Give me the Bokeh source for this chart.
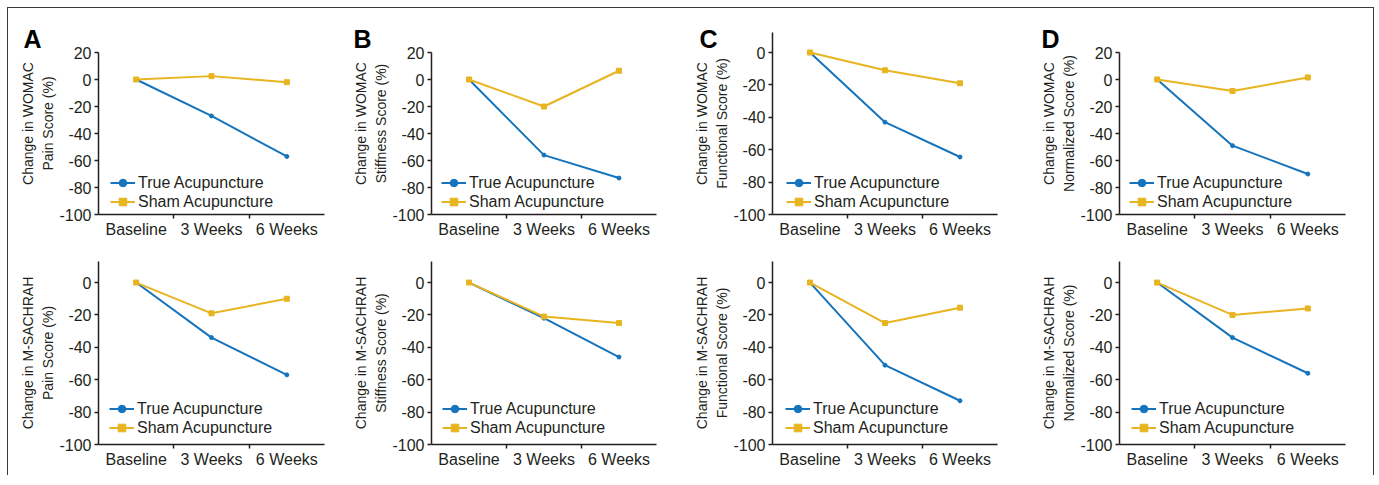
from bokeh.plotting import figure
from bokeh.layouts import row, column
from bokeh.models import FixedTicker, Label
from bokeh.embed import file_html
from bokeh.resources import INLINE

# ---------------- data ----------------
categories = ["Baseline", "3 Weeks", "6 Weeks"]
x_pos = [0, 1, 2]
series_names = ["True Acupuncture", "Sham Acupuncture"]

womac_pain_true = [0, -27, -57]
womac_pain_sham = [0, 2.5, -2]
womac_stiff_true = [0, -56, -73]
womac_stiff_sham = [0, -20, 6.5]
womac_func_true = [0, -43, -64.5]
womac_func_sham = [0, -11, -19]
womac_norm_true = [0, -49, -70]
womac_norm_sham = [0, -8.5, 1.5]

msach_pain_true = [0, -34, -57]
msach_pain_sham = [0, -19, -10]
msach_stiff_true = [0, -22, -46]
msach_stiff_sham = [0, -21, -25]
msach_func_true = [0, -51, -73]
msach_func_sham = [0, -25, -15.5]
msach_norm_true = [0, -34, -56]
msach_norm_sham = [0, -20, -16]

yticks_top = [20, 0, -20, -40, -60, -80, -100]
yticks_zero = [0, -20, -40, -60, -80, -100]

panel_letters = ["A", "B", "C", "D"]
ylabels_top = ["Change in WOMAC\nPain Score (%)",
               "Change in WOMAC\nStiffness Score (%)",
               "Change in WOMAC\nFunctional Score (%)",
               "Change in WOMAC\nNormalized Score (%)"]
ylabels_bot = ["Change in M-SACHRAH\nPain Score (%)",
               "Change in M-SACHRAH\nStiffness Score (%)",
               "Change in M-SACHRAH\nFunctional Score (%)",
               "Change in M-SACHRAH\nNormalized Score (%)"]

# ---------------- style / layout ----------------
FONT = "Liberation Sans"
INK = "#231f20"
BLUE = "#1574bb"
YELLOW = "#e8b420"

col_w = [337, 345, 342, 341]
col_left = [90, 86, 79, 87]
col_right = [21, 34, 35, 28]
legend_dx_top = [12, 10, 14, 10]
legend_dx_bot = [11, 11, 13, 12]
letter_dx = [-75, -78, -74, -78]

ROW1_H, ROW1_TOP, ROW1_BOT = 236, 24, 30
ROW2_H, ROW2_TOP, ROW2_BOT = 231, 17, 31


def make_panel(true_vals, sham_vals, ylabel, yticks, y_end, y_bound, w, h,
               b_left, b_right, b_top, b_bottom, leg_x, leg_y,
               letter=None, let_dx=0, let_dy=-6):
    p = figure(width=w, height=h, output_backend="svg", toolbar_location=None,
               x_range=(-0.5, 2.5), y_range=(-100, y_end),
               min_border_left=b_left, min_border_right=b_right,
               min_border_top=b_top, min_border_bottom=b_bottom)
    p.outline_line_color = None
    p.xgrid.visible = False
    p.ygrid.visible = False
    p.background_fill_color = "white"
    p.border_fill_color = "white"

    p.line(x_pos, true_vals, line_color=BLUE, line_width=2, legend_label=series_names[0])
    p.scatter(x_pos, true_vals, marker="circle", size=4, fill_color=BLUE,
              line_color=BLUE, legend_label=series_names[0])
    p.line(x_pos, sham_vals, line_color=YELLOW, line_width=2, legend_label=series_names[1])
    p.scatter(x_pos, sham_vals, marker="square", size=5, fill_color=YELLOW,
              line_color=YELLOW, legend_label=series_names[1])

    # x axis
    xa = p.xaxis[0]
    xa.ticker = FixedTicker(ticks=x_pos, minor_ticks=[0.5, 1.5])
    xa.major_label_overrides = {x: c for x, c in zip(x_pos, categories)}
    xa.major_tick_line_color = None
    xa.major_tick_out = 0
    xa.major_tick_in = 0
    xa.minor_tick_out = 4
    xa.minor_tick_in = 0
    xa.minor_tick_line_color = INK
    xa.minor_tick_line_width = 1.5
    xa.axis_line_color = INK
    xa.axis_line_width = 1.5
    xa.major_label_text_font = FONT
    xa.major_label_text_font_size = "16px"
    xa.major_label_text_color = INK
    xa.major_label_standoff = 2

    # y axis
    ya = p.yaxis[0]
    ya.ticker = FixedTicker(ticks=yticks, minor_ticks=[])
    ya.major_label_overrides = {t: str(t) for t in yticks}
    ya.bounds = (-100, y_bound)
    ya.major_tick_out = 4
    ya.major_tick_in = 0
    ya.major_tick_line_color = INK
    ya.major_tick_line_width = 1.5
    ya.minor_tick_line_color = None
    ya.axis_line_color = INK
    ya.axis_line_width = 1.5
    ya.major_label_text_font = FONT
    ya.major_label_text_font_size = "16px"
    ya.major_label_text_color = INK
    ya.major_label_standoff = 3
    ya.axis_label = ylabel
    ya.axis_label_text_font = FONT
    ya.axis_label_text_font_size = "14px"
    ya.axis_label_text_font_style = "normal"
    ya.axis_label_text_color = INK
    ya.axis_label_text_line_height = 1.28
    ya.axis_label_standoff = 0

    lg = p.legend[0]
    lg.location = (leg_x, leg_y)
    lg.border_line_color = None
    lg.background_fill_alpha = 0
    lg.padding = 0
    lg.margin = 0
    lg.spacing = 0
    lg.glyph_width = 25
    lg.glyph_height = 19
    lg.label_height = 19
    lg.label_standoff = 3
    lg.label_text_font = FONT
    lg.label_text_font_size = "16px"
    lg.label_text_color = INK

    if letter is not None:
        fw = w - b_left - b_right
        fh = h - b_top - b_bottom
        xs = 3.0 / fw
        ys = (y_end + 100) / fh
        p.add_layout(Label(x=-0.5 + let_dx * xs, y=y_end + let_dy * ys, text=letter,
                           text_font=FONT, text_font_size="25px", text_font_style="bold",
                           text_color="black", text_align="left",
                           text_baseline="alphabetic"), "right")
    return p


top_true = [womac_pain_true, womac_stiff_true, womac_func_true, womac_norm_true]
top_sham = [womac_pain_sham, womac_stiff_sham, womac_func_sham, womac_norm_sham]
bot_true = [msach_pain_true, msach_stiff_true, msach_func_true, msach_norm_true]
bot_sham = [msach_pain_sham, msach_stiff_sham, msach_func_sham, msach_norm_sham]

row1_fh = ROW1_H - ROW1_TOP - ROW1_BOT           # 182 px frame
row1, row2 = [], []
for i in range(4):
    if i == 2:
        # axis runs 0..-100 over 162 px, frame extends to 182 px
        yt = yticks_zero
        yend = -100 + row1_fh * 100.0 / 162
        ybound = yend
    else:
        # axis runs 20..-100 over 162 px, frame extends to 182 px
        yt, ybound = yticks_top, 20
        yend = -100 + row1_fh * 120.0 / 162
    p1 = make_panel(top_true[i], top_sham[i], ylabels_top[i], yt, yend, ybound,
                    col_w[i], ROW1_H, col_left[i], col_right[i], ROW1_TOP, ROW1_BOT,
                    legend_dx_top[i], 3, letter=panel_letters[i],
                    let_dx=letter_dx[i], let_dy=-6)
    row1.append(p1)
    p2 = make_panel(bot_true[i], bot_sham[i], ylabels_bot[i], yticks_zero, 13, 13,
                    col_w[i], ROW2_H, col_left[i], col_right[i], ROW2_TOP, ROW2_BOT,
                    legend_dx_bot[i], 7)
    row2.append(p2)

layout = column(row(*row1), row(*row2))
layout.styles = {"margin-left": "7px", "margin-top": "7px",
                 "border-top": "1.5px solid #3a3a3a",
                 "border-left": "1.5px solid #3a3a3a",
                 "border-right": "1.5px solid #3a3a3a"}

open("out.html", "w").write(file_html(layout, INLINE))
